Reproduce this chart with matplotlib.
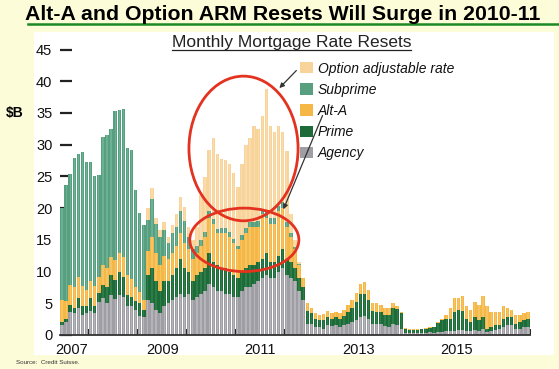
import matplotlib
matplotlib.use('Agg')
import matplotlib.pyplot as plt
import numpy as np
from matplotlib.patches import Ellipse, Rectangle, Patch
from matplotlib.lines import Line2D

plt.rcParams['font.family'] = ['Liberation Sans', 'DejaVu Sans']

# ---------------- data (monthly, Jun 2007 .. Dec 2016, $B) ----------------
agency = [1.6, 2.1, 3.7, 3.4, 4.2, 3.1, 3.4, 3.8, 3.4, 5.2, 5.8, 5.0, 6.3, 5.6, 6.3, 6.0, 4.5, 4.5, 4.0, 3.0, 2.8, 5.5,
          5.0, 4.0, 3.5, 4.5, 5.0, 5.5, 6.0, 6.5, 6.0, 6.5, 5.5, 6.0,
          6.5, 7.0, 8.0, 7.5, 7.0, 7.0, 6.5, 6.5, 6.0, 6.0, 7.0, 7.5, 7.5, 8.0, 8.5, 9.0, 9.5, 9.0, 9.0, 10.0, 10.5, 9.5,
          9.0, 8.5, 7.0, 5.5, 1.8, 1.8, 1.3, 1.3, 1.0, 1.5, 1.4,
          1.5, 1.2, 1.5, 1.8, 2.0, 2.4, 2.8, 3.0, 2.5, 1.8, 1.8, 1.7, 1.4, 1.3, 1.7, 1.5, 1.0, 0.3, 0.3, 0.3, 0.3, 0.3, 0.35, 0.4,
          0.3, 0.4, 0.5, 0.6, 0.6, 0.7, 0.8, 0.8, 0.7, 0.6, 0.8, 0.7, 0.9, 0.5, 0.6, 0.8, 0.9, 1.3, 1.5, 1.5, 1.0, 1.0, 1.2, 1.3]
prime = [0.5, 0.5, 1.0, 0.8, 1.6, 1.4, 1.1, 2.0, 1.2, 1.4, 2.1, 2.5, 3.1, 3.0, 3.7, 3.2, 1.8, 1.5, 1.3, 2.0, 1.2, 4.0,
         5.5, 4.5, 3.5, 4.0, 3.5, 4.0, 4.5, 5.5, 4.5, 3.5, 3.0, 3.5,
         3.5, 3.5, 5.0, 4.0, 4.0, 3.5, 4.0, 3.5, 3.5, 3.0, 3.0, 3.0, 3.5, 3.0, 3.0, 3.0, 3.5, 2.5, 2.5, 2.5, 3.0, 2.5,
         2.5, 2.0, 2.0, 2.0, 2.0, 1.6, 1.2, 1.0, 1.3, 1.3, 1.2,
         1.3, 1.3, 1.5, 1.8, 2.2, 2.8, 3.6, 3.4, 3.0, 2.0, 1.9, 1.9, 1.8, 1.9, 2.5, 2.6, 2.4, 0.7, 0.55, 0.55, 0.55, 0.6, 0.65, 0.75,
         0.9, 1.5, 1.8, 2.0, 2.0, 3.0, 3.1, 3.0, 1.9, 1.5, 2.1, 1.7, 2.0, 0.5, 0.7, 0.8, 0.7, 1.3, 1.4, 1.4, 0.8, 1.1, 1.2, 1.3]
alt_a = [3.4, 2.7, 3.2, 3.3, 3.3, 3.3, 2.6, 2.7, 3.2, 2.5, 3.1, 3.0, 2.9, 3.2, 2.9, 3.1, 3.1, 2.8, 2.3, 1.8, 1.5, 3.7,
         5.0, 4.5, 4.0, 4.0, 3.5, 3.5, 3.5, 4.0, 4.0, 3.5, 3.5, 3.5,
         4.0, 5.0, 5.5, 6.0, 5.0, 5.5, 5.5, 5.5, 5.0, 4.5, 5.0, 5.5, 6.0, 6.0, 5.5, 7.0, 5.5, 6.0, 6.0, 7.0, 6.5, 5.0,
         4.0, 3.0, 2.0, 1.5, 1.2, 0.9, 0.9, 0.9, 1.0, 1.0, 0.9,
         0.9, 0.9, 1.0, 1.1, 1.3, 1.4, 1.7, 2.0, 1.6, 1.2, 1.3, 1.2, 1.0, 1.0, 0.8, 0.4, 0.2, 0.05, 0.05, 0.05, 0.05, 0.1, 0.1, 0.1,
         0.1, 0.2, 0.3, 0.6, 1.6, 2.1, 2.0, 2.4, 1.9, 1.8, 2.3, 2.3, 3.2, 3.5, 2.4, 2.1, 2.1, 1.9, 1.3, 1.0, 1.4, 1.1, 1.0, 1.1]
subprime = [14.5, 18.3, 17.4, 20.4, 19.5, 21.0, 20.2, 18.7, 17.2, 16.1, 20.2, 21.0, 20.2, 23.5, 22.5, 23.4, 20.1, 20.3, 15.2, 12.4, 11.8, 5.0,
            6.0, 4.5, 4.5, 4.0, 2.5, 3.0, 3.0, 3.5, 3.5, 2.0, 1.5, 1.0,
            1.0, 0.8, 1.0, 0.8, 0.7, 0.8, 0.8, 0.7, 0.7, 0.6, 0.8, 0.8, 0.8, 0.8, 1.0, 0.8, 1.2, 1.0, 1.0, 0.8, 1.0, 0.8,
            0.5, 0.3, 0.2] + [0.0] * 56
option = [0.0] * 21 + [1.8,
          1.7, 1.0, 1.0, 1.3, 1.0, 1.3, 2.0, 2.3, 2.2, 1.5, 1.4, 3.0,
          7.0, 8.6, 9.6, 12.7, 11.9, 11.0, 10.8, 10.8, 10.3, 9.3, 11.2, 13.2, 13.2, 15.2, 14.5, 14.7, 19.1, 14.5, 13.5, 12.7, 11.0, 11.2,
          3.0, 1.2, 0.3] + [0.0] * 56

series_names = ['Agency', 'Prime', 'Alt-A', 'Subprime', 'Option adjustable rate']
year_labels = ['2007', '2009', '2011', '2013', '2015']
y_ticks = list(range(0, 46, 5))

colors = {'Agency': '#9e9ea4', 'Prime': '#1d6b38', 'Alt-A': '#f5b847',
          'Subprime': '#579f7f', 'Option adjustable rate': '#f8d49b'}
stripe = {'Agency': '#b4b4b9', 'Prime': '#2e7d49', 'Alt-A': '#f7c465',
          'Subprime': '#6cb193', 'Option adjustable rate': '#fadcac'}

W, H = 559, 369
fig = plt.figure(figsize=(W / 100, H / 100), dpi=100)
fig.patch.set_facecolor('#fdfcd9')
fig.patches.append(Rectangle((34 / W, 1 - 355 / H), (554 - 34) / W, (355 - 32) / H,
                             transform=fig.transFigure, facecolor='white',
                             edgecolor='none', zorder=0))

ax = fig.add_axes([60 / W, 1 - 335 / H, 470 / W, (335 - 49.5) / H])
ax.set_facecolor('none')

n = len(agency)
x = np.arange(n)
bottom = np.zeros(n)
for name, vals in zip(series_names, [agency, prime, alt_a, subprime, option]):
    v = np.array(vals)
    ax.bar(x, v, width=0.86, bottom=bottom, color=colors[name], linewidth=0, zorder=2)
    ax.bar(x, v, width=0.3, bottom=bottom, color=stripe[name], linewidth=0, zorder=2.1)
    bottom = bottom + v

ax.set_xlim(-0.5, n - 0.5)
ax.set_ylim(0, 45)
for s in ['left', 'right', 'top']:
    ax.spines[s].set_visible(False)
ax.spines['bottom'].set_color('#333333')
ax.spines['bottom'].set_linewidth(1.3)
ax.spines['bottom'].set_zorder(5)

ax.set_yticks(y_ticks)
ax.tick_params(axis='y', direction='in', length=8.5, width=1.6, color='#222222',
               pad=5.5, labelsize=10.5, labelcolor='#111111')
ax2 = ax.twinx()
ax2.set_ylim(0, 45)
ax2.set_yticks(y_ticks)
for s in ['left', 'right', 'top', 'bottom']:
    ax2.spines[s].set_visible(False)
ax2.tick_params(axis='y', direction='in', length=8.5, width=1.6, color='#222222',
                pad=2.5, labelsize=10.5, labelcolor='#111111')
for a in (ax, ax2):
    for t in a.yaxis.get_major_ticks():
        t.tick1line.set_zorder(6)
        t.tick2line.set_zorder(6)
ax.set_zorder(3)

ax.set_xticks([6.5 + 12 * k for k in range(10)])
ax.set_xticklabels([])
ax.tick_params(axis='x', which='major', direction='in', length=4.5, width=1.4, color='#222222')
ax.set_xticks([2.3, 24.5, 48.5, 72.5, 96.5], minor=True)
ax.set_xticklabels(year_labels, minor=True)
ax.tick_params(axis='x', which='minor', length=0, pad=6, labelsize=10.5, labelcolor='#111111')

# ellipses and arrows
ax.add_patch(Ellipse((44.4, 29.4), 26.7, 22.8, fill=False, edgecolor='#e3321f', lw=2.0,
                     zorder=7, clip_on=False))
ax.add_patch(Ellipse((44.6, 15.0), 26.7, 10.0, fill=False, edgecolor='#e3321f', lw=2.0,
                     zorder=7, clip_on=False))
ax.annotate('', xy=(52.7, 38.6), xytext=(57.8, 42.0), annotation_clip=False,
            arrowprops=dict(arrowstyle='-|>', color='#333333', lw=0.9, mutation_scale=7), zorder=8)
ax.annotate('', xy=(53.9, 19.4), xytext=(64.0, 35.0), annotation_clip=False,
            arrowprops=dict(arrowstyle='-|>', color='#333333', lw=0.9, mutation_scale=7), zorder=8)

# legend
order = ['Option adjustable rate', 'Subprime', 'Alt-A', 'Prime', 'Agency']
handles = [Patch(facecolor=colors[k], edgecolor='none') for k in order]
leg = ax.legend(handles, order, loc='upper left', bbox_to_anchor=(300 / W, 1 - 61.5 / H),
                bbox_transform=fig.transFigure, frameon=False, borderpad=0, borderaxespad=0,
                handlelength=0.9, handleheight=0.9, handletextpad=0.4, labelspacing=0.52,
                prop={'style': 'italic', 'size': 10})
for t in leg.get_texts():
    t.set_color('#111111')

# titles
fig.text(25 / W, 1 - 19.5 / H, 'Alt-A and Option ARM Resets Will Surge in 2010-11',
         fontsize=15.3, fontweight='bold', va='baseline', ha='left', color='#000000')
fig.add_artist(Line2D([28 / W, 1.0], [1 - 24 / H, 1 - 24 / H], transform=fig.transFigure,
                      color='#1b8a24', lw=1.8))
sub = fig.text(291.5 / W, 1 - 47.5 / H, 'Monthly Mortgage Rate Resets', fontsize=12.5,
               va='baseline', ha='center', color='#222222')
fig.canvas.draw()
bb = sub.get_window_extent()
fig.add_artist(Line2D([bb.x0 / W, bb.x1 / W], [1 - 49.5 / H, 1 - 49.5 / H],
                      transform=fig.transFigure, color='#222222', lw=0.9))
fig.text(6 / W, 1 - 113 / H, r'\$B', fontsize=10, fontweight='bold', va='center', ha='left')
fig.text(16 / W, 1 - 363 / H, 'Source:  Credit Suisse.', fontsize=4.5, va='center', ha='left',
         color='#333333')

fig.savefig('out.png', dpi=100, facecolor=fig.get_facecolor())
